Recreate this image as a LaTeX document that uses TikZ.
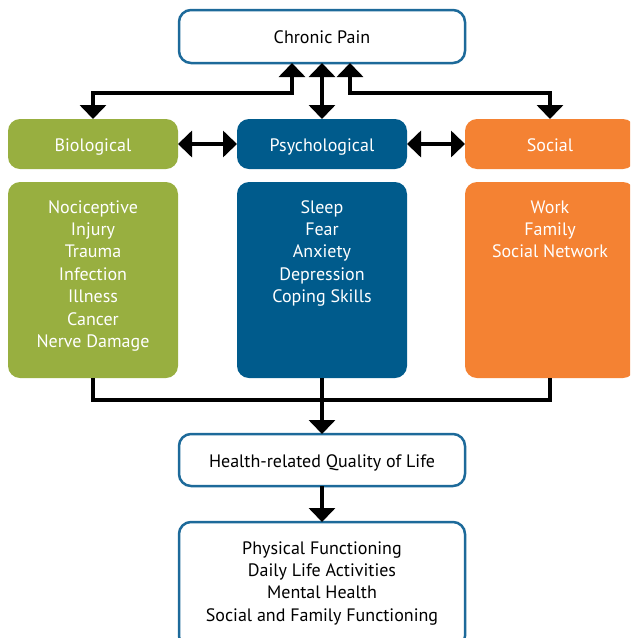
\documentclass[tikz,border=0pt]{standalone}
\usepackage{fontspec}
\setmainfont{PT Sans}
\setsansfont{PT Sans}
\usetikzlibrary{arrows.meta}
\definecolor{bioGreen}{HTML}{98AF40}
\definecolor{psyBlue}{HTML}{005B8C}
\definecolor{socOrange}{HTML}{F48233}
\definecolor{edgeBlue}{HTML}{1D6A9A}
\newcommand{\listtext}[3]{\parbox[c][#1][t]{#2}{\centering\rule{0pt}{19pt}#3}}
\begin{document}
\begin{tikzpicture}[x=1pt, y=-1pt, font=\sffamily\fontsize{18}{22.4}\selectfont, every node/.style={outer sep=0pt, rounded corners=12pt}, line join=miter,
    outline/.style={draw=edgeBlue, line width=2.5pt, fill=white, minimum width=286pt, align=center},
    oneline/.style={text height=15pt, text depth=1pt},
    header/.style={text=white, minimum width=170pt, minimum height=50pt, oneline},
    listbox/.style={text=white, minimum width=170pt, inner sep=12pt},
    conn/.style={line width=4.5pt, draw=black},
    tip/.tip={Triangle[width=26pt, length=14pt]}]
    \clip (0,0) rectangle (630,638);
    % top
    \node[outline, oneline, minimum height=53pt] (pain) at (322, 36.5) {Chronic Pain};
    % the three factors
    \node[header, fill=bioGreen] (bio) at (93, 144) {Biological};
    \node[header, fill=psyBlue] (psy) at (322, 144) {Psychological};
    \node[header, fill=socOrange] (soc) at (550, 144) {Social};
    \node[listbox, fill=bioGreen] (biolist) at (93, 280) {\listtext{172pt}{146pt}{Nociceptive\\Injury\\Trauma\\Infection\\Illness\\Cancer\\Nerve Damage}};
    \node[listbox, fill=psyBlue] (psylist) at (322, 280) {\listtext{172pt}{146pt}{Sleep\\Fear\\Anxiety\\Depression\\Coping Skills}};
    \node[listbox, fill=socOrange] (soclist) at (550, 280) {\listtext{172pt}{146pt}{Work\\Family\\Social Network}};
    % outcome
    \node[outline, oneline, minimum height=52pt] (hrql) at (322, 460) {Health-related Quality of Life};
    \node[outline, minimum height=126pt, inner sep=12pt] (func) at (322, 585) {\listtext{100pt}{262pt}{Physical Functioning\\Daily Life Activities\\Mental Health\\Social and Family Functioning}};
    % connectors
    \coordinate (lj) at (292, 93);
    \coordinate (rj) at (350, 93);
    \coordinate (bj) at (322, 400);
    \draw[conn, {tip}-{tip}] (bio.north) |- (lj) -- (lj |- pain.south);
    \draw[conn, {tip}-{tip}] (pain.south) -- (psy.north);
    \draw[conn, {tip}-{tip}] (rj |- pain.south) -- (rj) -| (soc.north);
    \draw[conn, {tip}-{tip}] (bio.east) -- (psy.west);
    \draw[conn, {tip}-{tip}] (psy.east) -- (soc.west);
    \draw[conn] (biolist.south) |- (bj) -| (soclist.south);
    \draw[conn, -{tip}] (psylist.south) -- (hrql.north);
    \draw[conn, -{tip}] (hrql.south) -- (func.north);
\end{tikzpicture}
\end{document}
